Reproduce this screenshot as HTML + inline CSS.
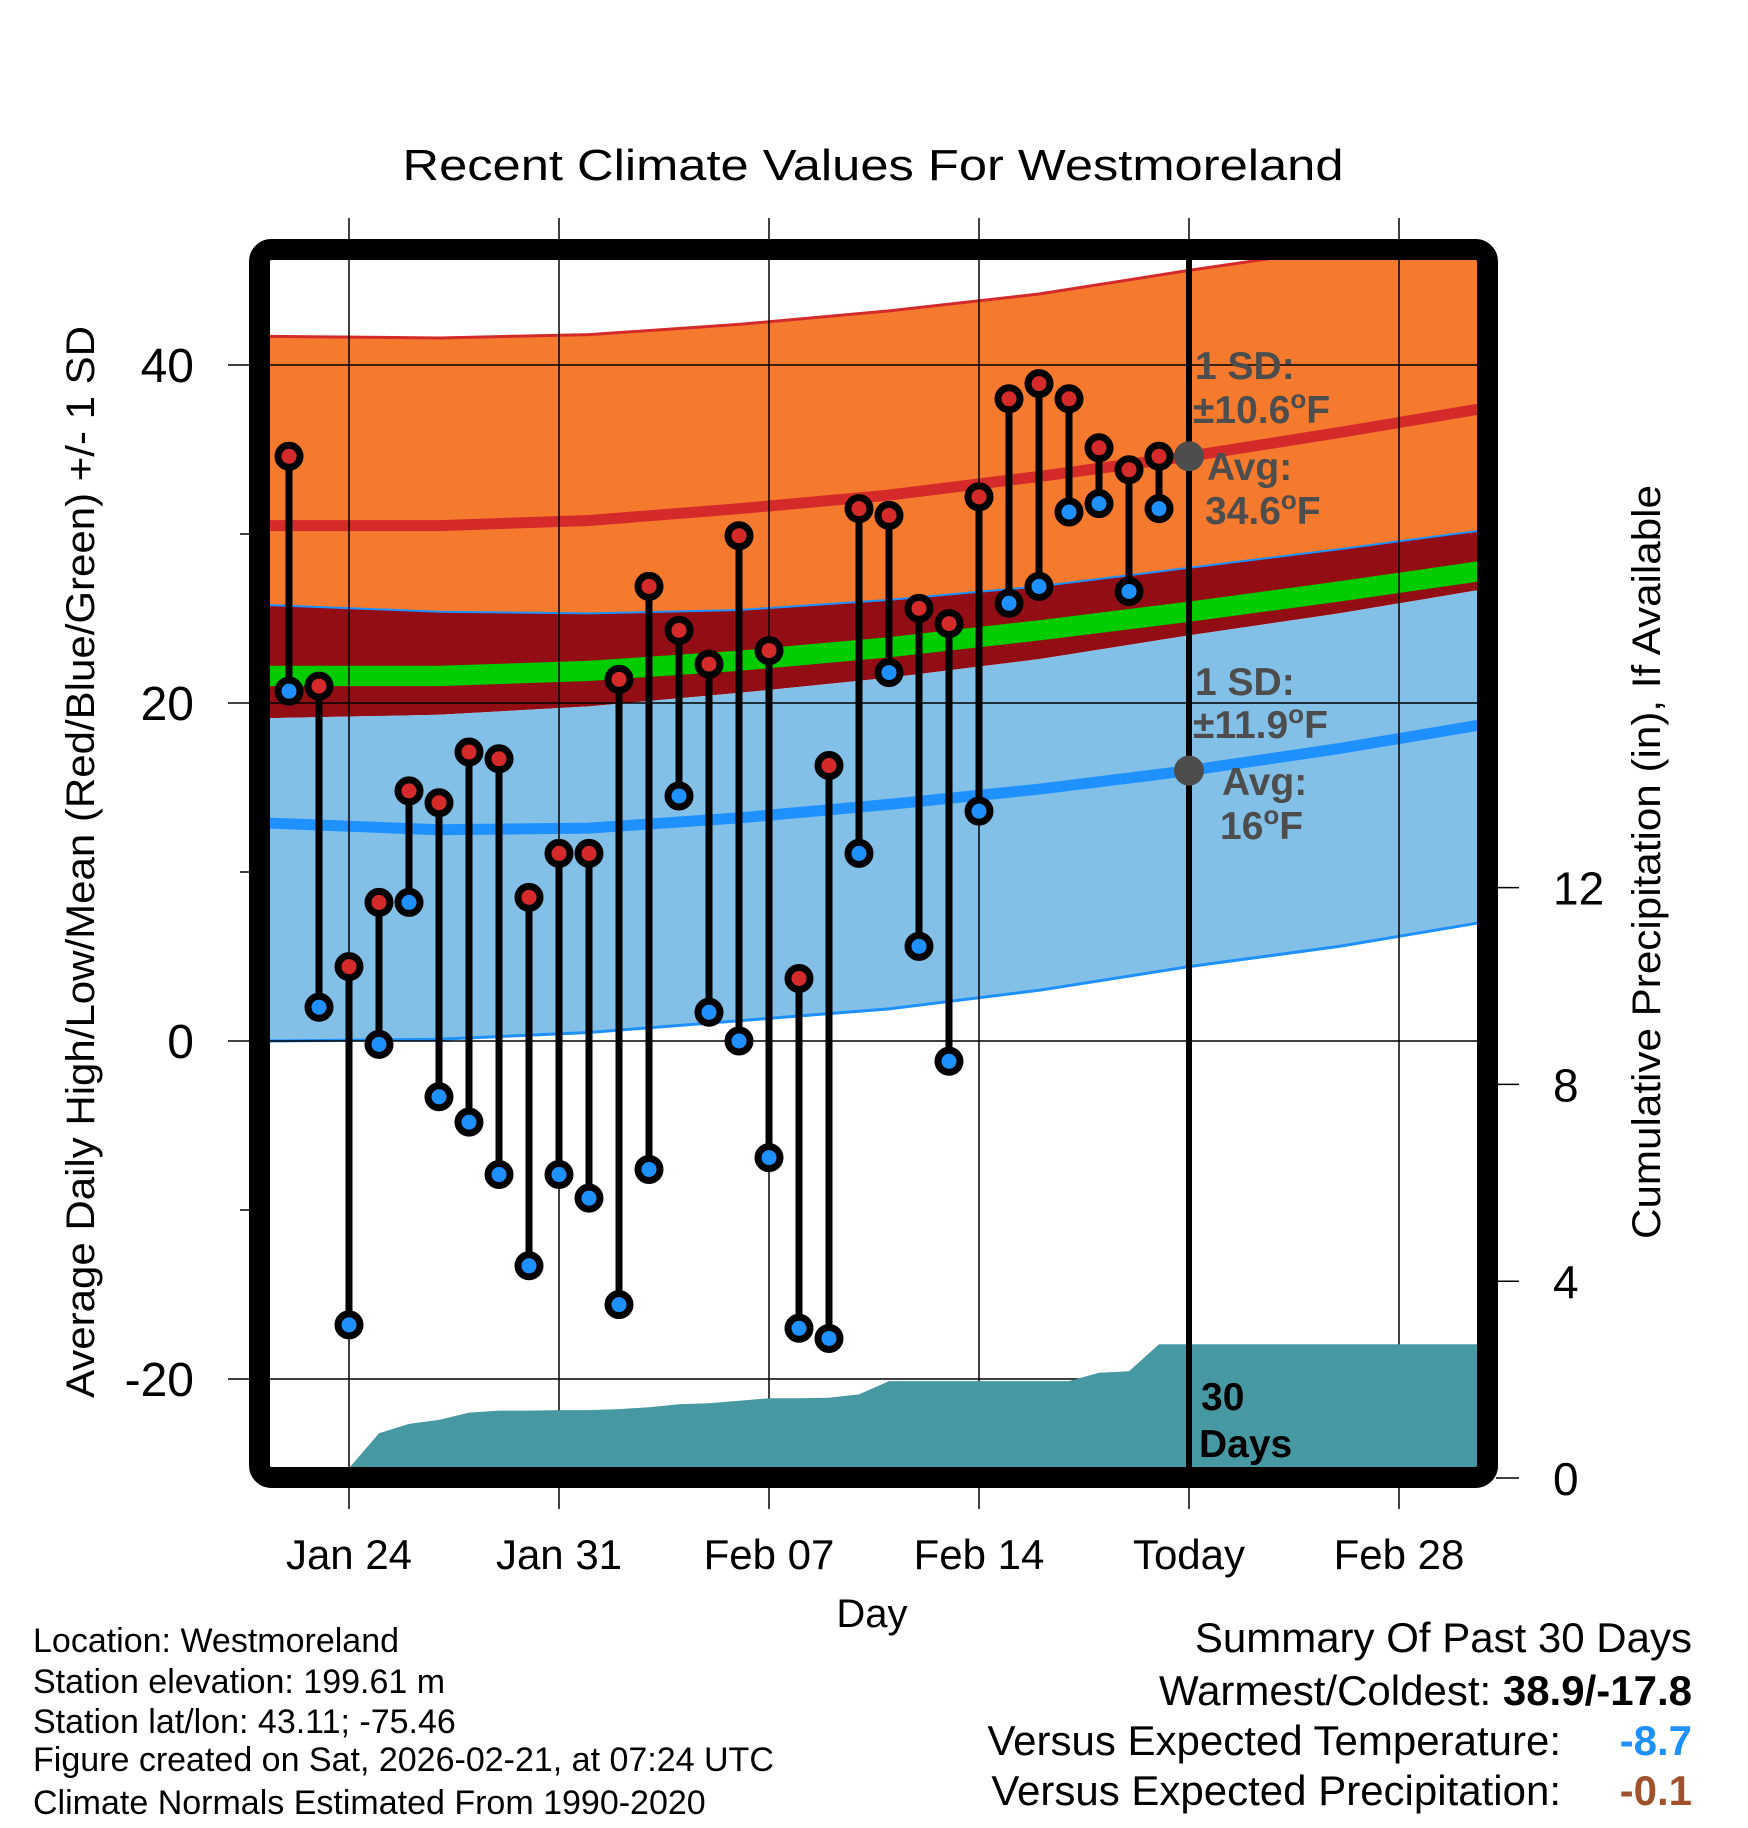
<!DOCTYPE html>
<html><head><meta charset="utf-8">
<style>
html,body{margin:0;padding:0;background:#fff;}
svg{display:block;font-family:"Liberation Sans",Arial,sans-serif;}
</style></head>
<body>
<svg id="chart" width="1748" height="1828" viewBox="0 0 1748 1828" xmlns="http://www.w3.org/2000/svg">
<defs><clipPath id="plotclip"><rect x="270" y="260" width="1208" height="1208"/></clipPath></defs>
<g id="bands" clip-path="url(#plotclip)"></g>
<g id="grid"></g>
<g id="precip" clip-path="url(#plotclip)"></g>
<g id="marks"></g>
<rect x="259.5" y="249.5" width="1228" height="1228" rx="12" fill="none" stroke="#000" stroke-width="21"/>
<g id="labels"></g>
<text x="873" y="180" font-size="44" text-anchor="middle" textLength="941" lengthAdjust="spacingAndGlyphs">Recent Climate Values For Westmoreland</text>
<text transform="translate(94,862) rotate(-90)" font-size="40" text-anchor="middle" textLength="1072" lengthAdjust="spacingAndGlyphs">Average Daily High/Low/Mean (Red/Blue/Green) +/- 1 SD</text>
<text transform="translate(1660,862) rotate(-90)" font-size="40" text-anchor="middle" textLength="754" lengthAdjust="spacingAndGlyphs">Cumulative Precipitation (in), If Available</text>
<text x="872" y="1627" font-size="40" text-anchor="middle">Day</text>
<g font-weight="bold" fill="#4d4d4d" font-size="39">
<text x="1195" y="379">1 SD:</text>
<text x="1193" y="423">±10.6<tspan font-size="26" dy="-15">o</tspan><tspan dy="15">F</tspan></text>
<text x="1207" y="480">Avg:</text>
<text x="1205" y="524">34.6<tspan font-size="26" dy="-15">o</tspan><tspan dy="15">F</tspan></text>
</g>
<g font-weight="bold" fill="#4d4d4d" font-size="39">
<text x="1195" y="695">1 SD:</text>
<text x="1193" y="738">±11.9<tspan font-size="26" dy="-15">o</tspan><tspan dy="15">F</tspan></text>
<text x="1222" y="795">Avg:</text>
<text x="1220" y="839">16<tspan font-size="26" dy="-15">o</tspan><tspan dy="15">F</tspan></text>
</g>
<g font-weight="bold" fill="#000" font-size="39">
<text x="1201" y="1410">30</text>
<text x="1199" y="1457">Days</text>
</g>
<g font-size="34" fill="#000">
<text x="33" y="1652">Location: Westmoreland</text>
<text x="33" y="1693">Station elevation: 199.61 m</text>
<text x="33" y="1733">Station lat/lon: 43.11; -75.46</text>
<text x="33" y="1771">Figure created on Sat, 2026-02-21, at 07:24 UTC</text>
<text x="33" y="1814">Climate Normals Estimated From 1990-2020</text>
</g>
<g font-size="42" fill="#000">
<text x="1692" y="1652" text-anchor="end">Summary Of Past 30 Days</text>
<text x="1692" y="1705" text-anchor="end">Warmest/Coldest: <tspan font-weight="bold">38.9/-17.8</tspan></text>
<text x="1561" y="1755" text-anchor="end">Versus Expected Temperature:</text>
<text x="1692" y="1755" text-anchor="end" font-weight="bold" fill="#1e90ff">-8.7</text>
<text x="1561" y="1805" text-anchor="end">Versus Expected Precipitation:</text>
<text x="1692" y="1805" text-anchor="end" font-weight="bold" fill="#a0522d">-0.1</text>
</g>
</svg>
<script>
// ---- data ----
const dayLabels = ["Jan 22","Jan 23","Jan 24","Jan 25","Jan 26","Jan 27","Jan 28","Jan 29","Jan 30","Jan 31","Feb 01","Feb 02","Feb 03","Feb 04","Feb 05","Feb 06","Feb 07","Feb 08","Feb 09","Feb 10","Feb 11","Feb 12","Feb 13","Feb 14","Feb 15","Feb 16","Feb 17","Feb 18","Feb 19","Feb 20"];
const highs = [34.6,21,4.4,8.2,14.8,14.1,17.1,16.7,8.5,11.1,11.1,21.4,26.9,24.3,22.3,29.9,23.1,3.7,16.3,31.5,31.1,25.6,24.7,32.2,38,38.9,38,35.1,33.8,34.6];
const lows = [20.7,2,-16.8,-0.2,8.2,-3.3,-4.8,-7.9,-13.3,-7.9,-9.3,-15.6,-7.6,14.5,1.7,0,-6.9,-17,-17.6,11.1,21.8,5.6,-1.2,13.6,25.9,26.9,31.3,31.8,26.6,31.5];
const precip = [0,0,0.2,0.91,1.1,1.18,1.33,1.37,1.37,1.38,1.38,1.4,1.44,1.5,1.52,1.57,1.62,1.62,1.63,1.7,1.97,1.97,1.97,1.97,1.97,1.97,1.97,2.14,2.17,2.72];
const normDays = [-0.7,5,10,15,20,25,30,35,39.7];
const highUpper = [41.7,41.6,41.8,42.4,43.2,44.2,45.6,46.9,48.3];
const highAvg = [30.5,30.5,30.8,31.5,32.3,33.4,34.6,36.0,37.4];
const highLower = [25.8,25.4,25.3,25.5,26.1,26.9,28.0,29.1,30.2];
const meanAvg = [21.6,21.6,21.9,22.5,23.3,24.3,25.4,26.6,27.8];
const lowUpper = [19.1,19.3,19.8,20.6,21.5,22.6,24.0,25.3,26.7];
const lowAvg = [12.9,12.5,12.6,13.2,14.0,14.9,16.0,17.3,18.7];
const lowLower = [0,0.1,0.5,1.2,1.9,3.0,4.4,5.6,7.0];
const xTickDays = [2,9,16,23,30,37];
const xTickLabels = ["Jan 24","Jan 31","Feb 07","Feb 14","Today","Feb 28"];
const yTicks = [40,20,0,-20];
const yMinor = [30,10,-10];
const pTicks = [0,4,8,12];
const todayDay = 30;

// ---- axes ----
const X = d => 289 + d*30;
const Y = t => 1041 - t*16.9;
const P = v => 1478 - v*49.2;
const NS = "http://www.w3.org/2000/svg";
function mk(tag, parent, attrs){const e=document.createElementNS(NS,tag);for(const k in attrs)e.setAttribute(k,attrs[k]);parent.appendChild(e);return e;}
const bands=document.getElementById('bands'), grid=document.getElementById('grid'), pr=document.getElementById('precip'), marks=document.getElementById('marks'), labels=document.getElementById('labels');
function pts(arr){return normDays.map((d,i)=>X(d).toFixed(1)+","+Y(arr[i]).toFixed(1));}
function band(a,b,fill,name){const p=mk('polygon',bands,{points:pts(a).concat(pts(b).reverse()).join(" "),fill:fill});}
function line(a,stroke,w,name){const p=mk('polyline',bands,{points:pts(a).join(" "),fill:"none",stroke:stroke,"stroke-width":w});}
band(highUpper,highLower,"#f57a2e","high-sd-band");
band(highLower,lowUpper,"#930d14","overlap-band");
band(meanAvg.map(v=>v+0.6),meanAvg.map(v=>v-0.6),"#00cc00","mean-band");
band(lowUpper,lowLower,"#82c0e8","low-sd-band");
line(highUpper,"#d42a2a",3,"high-upper-line");
line(highAvg,"#d42a2a",11,"high-avg-line");
line(highLower,"#1e90ff",2,"high-lower-line");
line(lowAvg,"#1e90ff",11,"low-avg-line");
line(lowLower,"#1e90ff",3,"low-lower-line");

// gridlines
xTickDays.forEach((d,i)=>{
  const l=mk('line',grid,{x1:X(d),x2:X(d),y1:218,y2:1509,stroke:"#000","stroke-width":1.5});
  
  
  const t=mk('text',labels,{x:X(d),y:1569,"font-size":42,"text-anchor":"middle"});t.textContent=xTickLabels[i];
  
  
});
yTicks.forEach(v=>{
  const l=mk('line',grid,{x1:228,x2:1478,y1:Y(v),y2:Y(v),stroke:"#000","stroke-width":1.5});
  
  
  const t=mk('text',labels,{x:194,y:Y(v)+17,"font-size":48,"text-anchor":"end"});t.textContent=String(v);
  
  
});
yMinor.forEach(v=>{const l=mk('line',grid,{x1:240,x2:250,y1:Y(v),y2:Y(v),stroke:"#000","stroke-width":1.5});
  
  });
pTicks.forEach(v=>{
  const l=mk('line',labels,{x1:1496,x2:1519,y1:P(v),y2:P(v),stroke:"#000","stroke-width":1.5});
  
  
  const t=mk('text',labels,{x:1553,y:P(v)+17,"font-size":46});t.textContent=String(v);
  
  
});

// precip area
let pp=[X(0)+","+P(0)];
precip.forEach((v,i)=>pp.push(X(i)+","+P(v).toFixed(1)));
pp.push("1490,"+P(precip[precip.length-1]).toFixed(1));pp.push("1490,1480");pp.push(X(0)+",1480");
const area=mk('polygon',pr,{points:pp.join(" "),fill:"#4699a3"});



// today line and normal markers
const tl=mk('line',marks,{x1:X(todayDay),x2:X(todayDay),y1:260,y2:1468,stroke:"#000","stroke-width":6});


[highAvg[6],lowAvg[6]].forEach(v=>{const c=mk('circle',marks,{cx:X(todayDay),cy:Y(v),r:15,fill:"#4d4d4d"});
  
  });

// daily stems & points
highs.forEach((h,i)=>{
  const x=X(i);
  const s=mk('line',marks,{x1:x,x2:x,y1:Y(h),y2:Y(lows[i]),stroke:"#000","stroke-width":7});
  
  
  const a=mk('circle',marks,{cx:x,cy:Y(h),r:11,fill:"#d42a2a",stroke:"#000","stroke-width":7});
  
  
  const b=mk('circle',marks,{cx:x,cy:Y(lows[i]),r:11,fill:"#1e90ff",stroke:"#000","stroke-width":7});
  
  
});
</script>
</body></html>
